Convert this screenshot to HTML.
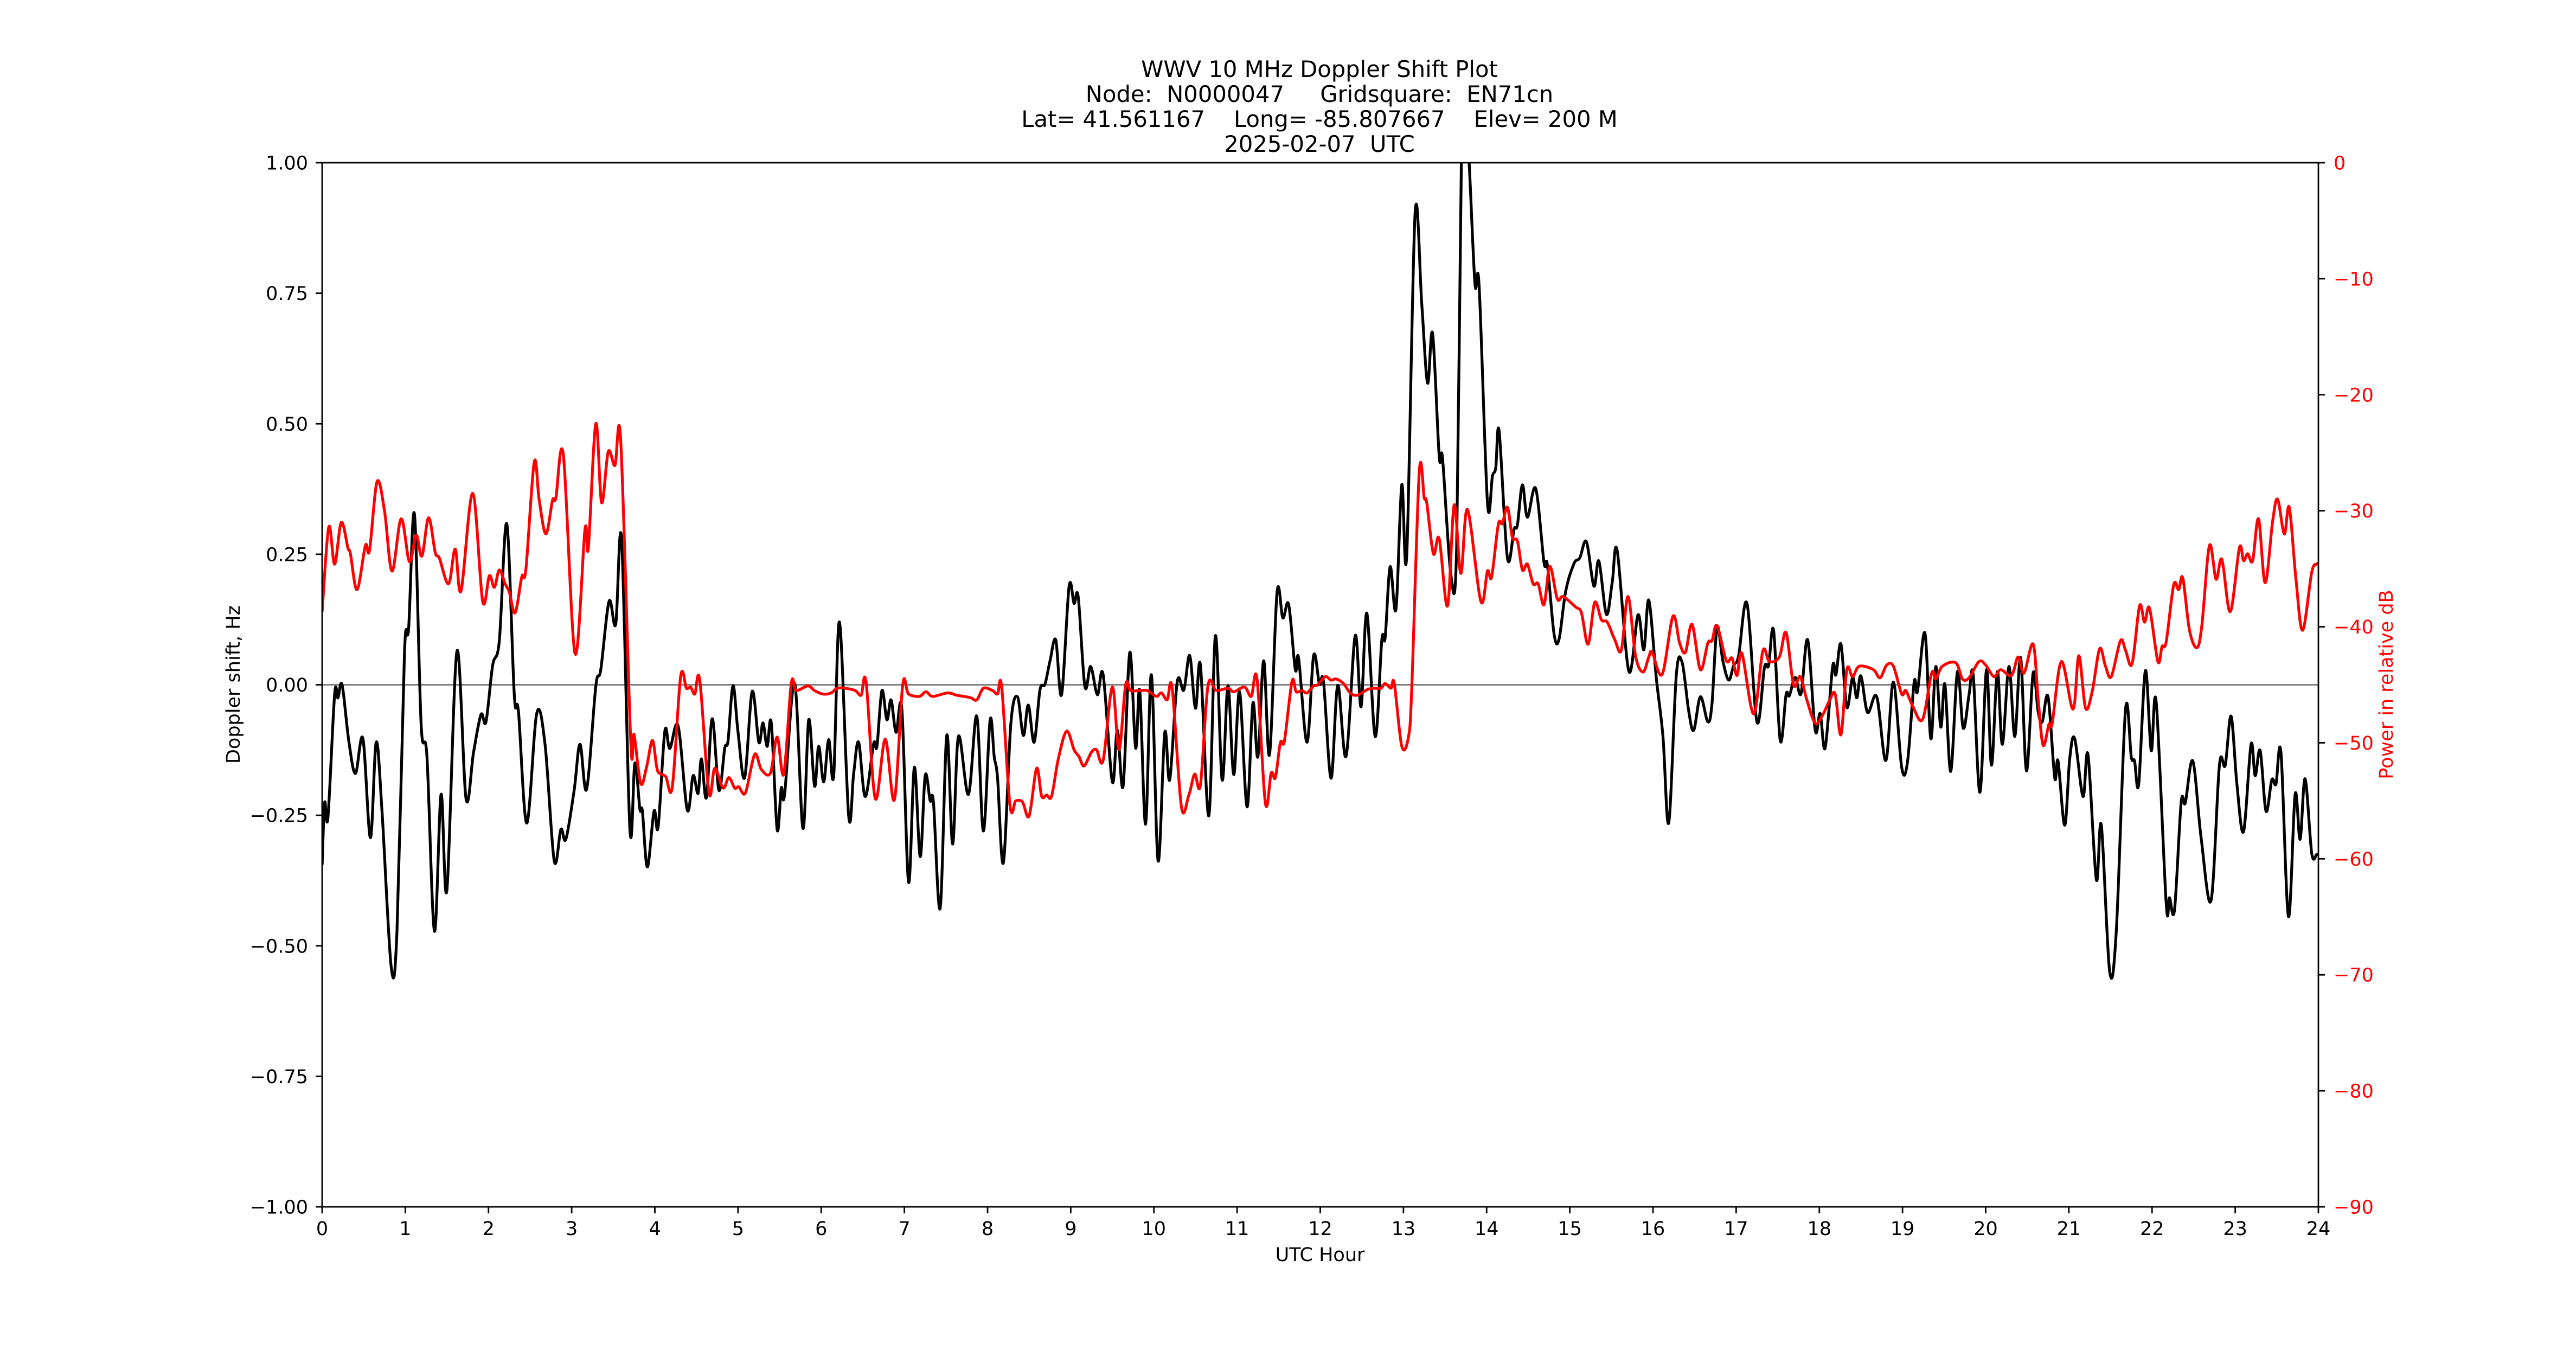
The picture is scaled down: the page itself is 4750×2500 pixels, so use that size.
<!DOCTYPE html>
<html><head><meta charset="utf-8">
<style>
html,body{margin:0;padding:0;background:#fff;}
svg{display:block;font-family:"DejaVu Sans","Liberation Sans",sans-serif;}
</style></head>
<body>
<svg id="chart" width="4750" height="2500" viewBox="0 0 4750 2500" xmlns="http://www.w3.org/2000/svg">
<rect width="4750" height="2500" fill="#fff"/>
<g font-size="41.7" text-anchor="middle" fill="#000" style="white-space:pre">
<text x="2433" y="142" xml:space="preserve">WWV 10 MHz Doppler Shift Plot</text>
<text x="2433" y="188" xml:space="preserve">Node:  N0000047     Gridsquare:  EN71cn</text>
<text x="2433" y="234" xml:space="preserve">Lat= 41.561167    Long= -85.807667    Elev= 200 M</text>
<text x="2433" y="280" xml:space="preserve">2025-02-07  UTC</text>
</g>
<text x="2434" y="2325" font-size="35" text-anchor="middle">UTC Hour</text>
<text transform="translate(442,1262) rotate(-90)" font-size="35" text-anchor="middle">Doppler shift, Hz</text>
<text transform="translate(4412,1262) rotate(-90)" font-size="35" text-anchor="middle" fill="#ff0000">Power in relative dB</text>
<defs><clipPath id="plotclip"><rect x="594" y="300" width="3681" height="1925"/></clipPath></defs>
<g id="series" clip-path="url(#plotclip)"></g>
<g id="axes"></g>
</svg>
<script>
const xTicks = [0,1,2,3,4,5,6,7,8,9,10,11,12,13,14,15,16,17,18,19,20,21,22,23,24];
const leftTicks = [-1,-0.75,-0.5,-0.25,0,0.25,0.5,0.75,1];
const leftTickLabels = ["\u22121.00","\u22120.75","\u22120.50","\u22120.25","0.00","0.25","0.50","0.75","1.00"];
const rightTicks = [0,-10,-20,-30,-40,-50,-60,-70,-80,-90];
const rightTickLabels = ["0","\u221210","\u221220","\u221230","\u221240","\u221250","\u221260","\u221270","\u221280","\u221290"];

const blackHours = [0.00,0.03,0.07,0.15,0.19,0.24,0.32,0.40,0.49,0.58,0.65,0.72,0.83,0.90,0.99,1.04,1.11,1.19,1.26,1.35,1.43,1.50,1.62,1.73,1.82,1.91,1.97,2.05,2.13,2.22,2.31,2.36,2.46,2.58,2.68,2.79,2.87,2.93,3.03,3.10,3.18,3.29,3.35,3.45,3.53,3.60,3.70,3.76,3.82,3.85,3.91,3.99,
4.04,4.12,4.18,4.28,4.39,4.46,4.52,4.56,4.62,4.69,4.77,4.84,4.88,4.94,5.00,5.08,5.17,5.25,5.30,5.35,5.40,5.47,5.52,5.56,5.68,5.78,5.85,5.92,5.97,6.03,6.09,6.15,6.22,6.33,6.39,6.45,6.53,6.63,6.67,6.73,6.79,6.84,6.90,6.97,7.05,7.12,7.19,7.25,7.31,7.35,7.43,7.51,7.58,7.65,7.77,7.87,7.95,
8.03,8.08,8.12,8.19,8.28,8.36,8.43,8.49,8.56,8.63,8.69,8.75,8.82,8.89,8.98,9.04,9.09,9.17,9.24,9.32,9.39,9.50,9.56,9.63,9.71,9.78,9.83,9.90,9.97,10.05,10.13,10.19,10.28,10.36,10.43,10.50,10.56,10.66,10.74,10.82,10.89,10.96,11.03,11.12,11.19,11.25,11.32,11.39,11.48,11.55,11.62,11.70,11.74,11.84,11.92,
11.99,12.04,12.13,12.21,12.31,12.42,12.49,12.56,12.66,12.74,12.78,12.84,12.91,12.98,13.04,13.14,13.22,13.29,13.35,13.43,13.47,13.57,13.64,13.70,13.75,13.79,13.86,13.91,14.01,14.07,14.11,14.15,14.25,14.33,14.37,14.43,14.49,14.59,14.69,14.73,14.81,14.87,14.95,15.05,15.12,15.20,15.29,15.35,15.44,15.51,15.57,15.71,15.82,15.89,15.95,
16.04,16.12,16.19,16.28,16.35,16.43,16.49,16.57,16.66,16.71,16.77,16.84,16.91,16.97,17.03,17.13,17.25,17.34,17.39,17.45,17.53,17.60,17.64,17.71,17.78,17.86,17.95,18.01,18.07,18.16,18.20,18.26,18.33,18.40,18.45,18.50,18.58,18.69,18.80,18.89,18.99,19.06,19.14,19.18,19.27,19.34,19.40,19.46,19.51,19.58,19.66,19.73,19.80,19.85,19.93,20.01,
20.07,20.14,20.20,20.28,20.35,20.42,20.49,20.57,20.63,20.68,20.75,20.83,20.87,20.95,21.01,21.07,21.17,21.23,21.33,21.39,21.49,21.57,21.68,21.75,21.79,21.84,21.92,21.99,22.05,22.17,22.21,22.27,22.35,22.40,22.49,22.59,22.71,22.81,22.88,22.95,23.02,23.10,23.19,23.24,23.30,23.37,23.44,23.49,23.55,23.64,23.72,23.78,23.84,23.92,23.98,24.00];
const blackShift = [-0.345,-0.226,-0.254,-0.019,-0.025,0,-0.107,-0.17,-0.103,-0.293,-0.11,-0.242,-0.54,-0.472,0.06,0.108,0.327,-0.075,-0.138,-0.472,-0.21,-0.393,0.064,-0.218,-0.13,-0.057,-0.071,0.037,0.084,0.308,-0.019,-0.051,-0.265,-0.055,-0.114,-0.337,-0.277,-0.296,-0.202,-0.114,-0.2,-0.003,0.029,0.16,0.116,0.279,-0.277,-0.15,-0.238,-0.242,-0.349,-0.242,
-0.272,-0.089,-0.122,-0.079,-0.24,-0.174,-0.208,-0.142,-0.216,-0.065,-0.202,-0.122,-0.107,-0.002,-0.091,-0.178,-0.013,-0.11,-0.073,-0.118,-0.073,-0.277,-0.198,-0.21,0.003,-0.275,-0.067,-0.194,-0.118,-0.186,-0.105,-0.174,0.12,-0.251,-0.17,-0.11,-0.214,-0.113,-0.118,-0.011,-0.067,-0.029,-0.091,-0.047,-0.378,-0.158,-0.329,-0.174,-0.222,-0.226,-0.428,-0.097,-0.305,-0.099,-0.21,-0.06,-0.28,
-0.068,-0.138,-0.178,-0.341,-0.075,-0.023,-0.097,-0.039,-0.11,-0.01,0.001,0.045,0.086,-0.019,0.188,0.156,0.168,-0.003,0.035,-0.019,0.019,-0.186,-0.087,-0.194,0.062,-0.121,-0.011,-0.267,0.019,-0.337,-0.092,-0.182,0.005,-0.01,0.056,-0.045,0.037,-0.251,0.094,-0.182,-0.002,-0.172,-0.013,-0.234,-0.035,-0.138,0.046,-0.134,0.176,0.128,0.154,0.029,0.051,-0.11,0.056,
0.001,0.005,-0.179,-0.001,-0.137,0.094,-0.042,0.137,-0.099,0.086,0.09,0.226,0.145,0.383,0.249,0.902,0.73,0.578,0.673,0.438,0.433,0.211,0.264,1.05,1.08,1.0,0.768,0.764,0.349,0.4,0.416,0.486,0.243,0.298,0.306,0.383,0.321,0.376,0.234,0.23,0.098,0.087,0.179,0.232,0.243,0.274,0.189,0.237,0.135,0.196,0.257,0.026,0.134,0.067,0.162,
0.013,-0.099,-0.264,0.017,0.043,-0.051,-0.087,-0.023,-0.071,-0.035,0.11,0.046,0.009,0.037,0.056,0.156,-0.071,0.033,0.037,0.104,-0.107,-0.019,-0.021,0.014,-0.017,0.086,-0.087,-0.055,-0.121,0.035,0.019,0.078,-0.043,0.014,-0.025,0.017,-0.053,-0.023,-0.145,0.005,-0.158,-0.148,0.005,-0.013,0.099,-0.103,0.035,-0.081,0.001,-0.166,0.025,-0.083,-0.019,0.019,-0.206,0.029,
-0.154,0.025,-0.114,0.035,-0.099,0.052,-0.165,0.022,-0.051,-0.071,-0.023,-0.178,-0.146,-0.269,-0.142,-0.103,-0.214,-0.134,-0.373,-0.269,-0.548,-0.472,-0.049,-0.138,-0.146,-0.19,0.027,-0.126,-0.033,-0.418,-0.408,-0.431,-0.226,-0.226,-0.146,-0.293,-0.413,-0.154,-0.154,-0.06,-0.19,-0.281,-0.114,-0.174,-0.126,-0.242,-0.182,-0.19,-0.13,-0.444,-0.21,-0.296,-0.18,-0.323,-0.325,-0.325];

const redHours = [0.00,0.08,0.15,0.23,0.31,0.34,0.42,0.52,0.57,0.66,0.75,0.84,0.95,1.05,1.13,1.20,1.28,1.36,1.41,1.52,1.60,1.67,1.81,1.93,2.01,2.07,2.13,2.20,2.25,2.32,2.40,2.45,2.55,2.61,2.69,2.77,2.81,2.90,3.04,3.16,3.20,3.29,3.36,3.44,3.52,3.59,3.71,3.75,3.83,3.90,3.97,4.02,
4.05,4.13,4.21,4.31,4.38,4.43,4.48,4.54,4.65,4.72,4.82,4.89,4.96,5.01,5.09,5.20,5.28,5.39,5.47,5.55,5.64,5.70,5.84,5.92,6.02,6.12,6.19,6.29,6.41,6.48,6.54,6.65,6.77,6.88,6.98,7.05,7.18,7.26,7.34,7.52,7.63,7.79,7.87,7.95,
8.06,8.12,8.17,8.27,8.34,8.42,8.50,8.59,8.65,8.71,8.77,8.85,8.95,9.04,9.10,9.16,9.25,9.31,9.39,9.50,9.58,9.66,9.72,9.83,9.92,10.03,10.09,10.16,10.22,10.33,10.42,10.49,10.56,10.65,10.75,10.89,10.96,11.09,11.17,11.24,11.34,11.41,11.46,11.52,11.57,11.66,11.71,11.78,11.84,11.92,
11.97,12.06,12.13,12.19,12.28,12.36,12.44,12.57,12.65,12.73,12.78,12.85,12.89,12.98,13.06,13.10,13.19,13.25,13.28,13.36,13.43,13.53,13.61,13.69,13.77,13.93,14.01,14.06,14.14,14.19,14.25,14.31,14.37,14.43,14.49,14.56,14.62,14.69,14.76,14.85,14.92,15.07,15.14,15.22,15.30,15.38,15.45,15.54,15.62,15.70,15.79,15.88,15.95,
15.99,16.11,16.24,16.32,16.39,16.47,16.57,16.66,16.71,16.77,16.88,16.95,17.01,17.07,17.21,17.32,17.40,17.52,17.60,17.69,17.77,17.85,17.95,18.04,18.12,18.19,18.26,18.33,18.40,18.48,18.65,18.73,18.81,18.89,18.99,19.04,19.12,19.24,19.35,19.40,19.48,19.64,19.72,19.80,19.92,20.00,
20.10,20.18,20.31,20.39,20.46,20.57,20.63,20.69,20.76,20.80,20.91,21.05,21.12,21.20,21.28,21.37,21.44,21.51,21.62,21.68,21.76,21.85,21.91,21.97,22.07,22.12,22.17,22.26,22.32,22.37,22.45,22.54,22.60,22.69,22.77,22.84,22.94,23.05,23.10,23.15,23.21,23.28,23.36,23.45,23.51,23.59,23.65,23.73,23.81,23.92,23.98,24.00];
const redPower = [-38.7,-31.4,-34.6,-31.0,-33.2,-33.7,-36.8,-33.0,-33.4,-27.5,-30.0,-35.2,-30.7,-34.4,-32.1,-33.9,-30.6,-33.6,-34.1,-36.3,-33.3,-36.9,-28.5,-37.8,-35.6,-36.6,-35.1,-36.3,-37.0,-38.8,-35.7,-35.0,-25.8,-29.1,-32.0,-29.1,-28.9,-25.2,-42.3,-31.6,-33.2,-22.5,-29.3,-24.9,-26.1,-24.0,-49.8,-49.3,-53.5,-52.1,-49.8,-52.0,
-52.6,-52.9,-53.8,-44.3,-45.3,-45.2,-45.8,-44.6,-54.3,-52.2,-53.9,-53.0,-53.9,-53.8,-54.3,-51.0,-52.3,-52.6,-49.5,-52.7,-44.9,-45.5,-45.1,-45.5,-45.8,-45.7,-45.3,-45.3,-45.5,-45.9,-44.8,-54.8,-49.7,-54.9,-45.0,-45.8,-46.0,-45.6,-46.0,-45.7,-45.9,-46.1,-46.3,-45.3,
-45.5,-45.8,-45.2,-55.4,-55.0,-55.1,-56.3,-52.2,-54.6,-54.5,-54.6,-51.4,-49.0,-50.6,-51.2,-52.0,-50.8,-50.6,-51.5,-45.2,-50.6,-45.0,-45.5,-45.5,-45.5,-46.0,-45.7,-46.3,-45.3,-55.5,-54.5,-52.7,-53.6,-45.1,-45.5,-45.3,-45.6,-45.2,-46.0,-44.5,-55.2,-52.6,-53.0,-50.0,-49.8,-44.7,-45.6,-45.5,-45.7,-45.1,
-45.0,-44.3,-44.6,-44.5,-44.9,-45.7,-45.9,-45.4,-45.3,-45.3,-44.9,-45.3,-44.9,-50.3,-49.5,-45.3,-26.7,-28.9,-29.3,-33.7,-32.4,-38.2,-29.5,-35.4,-29.9,-37.8,-35.2,-35.7,-31.2,-31.1,-29.7,-32.3,-32.6,-35.1,-34.6,-36.3,-36.3,-38.1,-34.8,-37.6,-37.4,-38.3,-38.8,-41.5,-37.9,-39.4,-39.6,-41.1,-42.0,-37.4,-42.5,-43.9,-42.6,
-42.2,-44.1,-39.1,-41.4,-42.2,-39.8,-43.7,-41.4,-41.2,-39.9,-42.9,-42.7,-44.2,-42.3,-47.5,-42.1,-43.0,-42.6,-40.5,-45.0,-44.3,-46.3,-48.3,-47.6,-46.4,-45.8,-49.3,-43.7,-44.3,-43.4,-43.7,-44.4,-43.3,-43.4,-45.8,-45.5,-46.8,-48.0,-44.0,-44.5,-43.4,-43.1,-44.5,-44.4,-43.0,-43.3,
-44.3,-43.7,-44.2,-42.6,-44.0,-41.5,-46.2,-50.2,-48.4,-48.3,-43.0,-47.1,-42.5,-47.0,-45.6,-41.9,-43.4,-44.3,-41.2,-42.0,-43.2,-38.2,-39.6,-38.4,-43.0,-41.7,-41.3,-36.4,-36.8,-35.8,-40.3,-41.8,-39.8,-33.0,-35.9,-34.2,-38.7,-33.2,-34.3,-33.7,-34.3,-30.7,-36.2,-30.9,-29.0,-32.0,-29.7,-35.9,-40.3,-35.3,-34.6,-34.6];

const NS = "http://www.w3.org/2000/svg";
const X0 = 594, X1 = 4275, Y0 = 300, Y1 = 2225;
function xScale(h){ return X0 + (h - 0) / 24 * (X1 - X0); }
function yLeft(v){ return Y1 - (v + 1) / 2 * (Y1 - Y0); }
function yRight(d){ return Y1 - (d + 90) / 90 * (Y1 - Y0); }

function smoothPath(xs, ys){
  const p = xs.map((x,i)=>[x, ys[i]]);
  let d = "M" + p[0][0].toFixed(1) + "," + p[0][1].toFixed(1);
  for (let i = 0; i < p.length - 1; i++){
    const p0 = p[Math.max(0,i-1)], p1 = p[i], p2 = p[i+1], p3 = p[Math.min(p.length-1,i+2)];
    const c1x = p1[0] + (p2[0]-p0[0])/6, c1y = p1[1] + (p2[1]-p0[1])/6;
    const c2x = p2[0] - (p3[0]-p1[0])/6, c2y = p2[1] - (p3[1]-p1[1])/6;
    d += " C" + c1x.toFixed(1)+","+c1y.toFixed(1)+" "+c2x.toFixed(1)+","+c2y.toFixed(1)+" "+p2[0].toFixed(1)+","+p2[1].toFixed(1);
  }
  return d;
}

const series = document.getElementById("series");
const axes = document.getElementById("axes");

const zero = document.createElementNS(NS, "line");


zero.setAttribute("x1", X0); zero.setAttribute("x2", X1);
zero.setAttribute("y1", yLeft(0)); zero.setAttribute("y2", yLeft(0));
zero.setAttribute("stroke", "#808080"); zero.setAttribute("stroke-width", "3");
series.appendChild(zero);

const blackLine = document.createElementNS(NS, "path");


blackLine.setAttribute("d", smoothPath(blackHours.map(xScale), blackShift.map(yLeft)));
blackLine.setAttribute("fill", "none"); blackLine.setAttribute("stroke", "#000");
blackLine.setAttribute("stroke-width", "5.2"); blackLine.setAttribute("stroke-linejoin", "round");
series.appendChild(blackLine);

const redLine = document.createElementNS(NS, "path");


redLine.setAttribute("d", smoothPath(redHours.map(xScale), redPower.map(yRight)));
redLine.setAttribute("fill", "none"); redLine.setAttribute("stroke", "#ff0000");
redLine.setAttribute("stroke-width", "5.2"); redLine.setAttribute("stroke-linejoin", "round");
series.appendChild(redLine);

const frame = document.createElementNS(NS, "rect");


frame.setAttribute("x", X0); frame.setAttribute("y", Y0);
frame.setAttribute("width", X1 - X0); frame.setAttribute("height", Y1 - Y0);
frame.setAttribute("fill", "none"); frame.setAttribute("stroke", "#000"); frame.setAttribute("stroke-width", "2.8");
axes.appendChild(frame);

function mkLine(x1,y1,x2,y2){
  const l = document.createElementNS(NS, "line");
  l.setAttribute("x1", x1); l.setAttribute("y1", y1); l.setAttribute("x2", x2); l.setAttribute("y2", y2);
  l.setAttribute("stroke", "#000"); l.setAttribute("stroke-width", "2.8");
  return l;
}
function mkText(x,y,s,anchor,fill){
  const t = document.createElementNS(NS, "text");
  t.setAttribute("x", x); t.setAttribute("y", y);
  t.setAttribute("text-anchor", anchor); t.setAttribute("font-size", "35");
  t.setAttribute("fill", fill); t.textContent = s;
  return t;
}

xTicks.forEach(h => {
  const x = xScale(h);
  const tk = mkLine(x, Y1, x, Y1 + 12);
  
  
  axes.appendChild(tk);
  const lb = mkText(x, Y1 + 52, String(h), "middle", "#000");
  
  
  axes.appendChild(lb);
});
leftTicks.forEach((v, i) => {
  const y = yLeft(v);
  const tk = mkLine(X0 - 12, y, X0, y);
  
  
  axes.appendChild(tk);
  const lb = mkText(X0 - 26, y + 12.5, leftTickLabels[i], "end", "#000");
  
  
  axes.appendChild(lb);
});
rightTicks.forEach((d, i) => {
  const y = yRight(d);
  const tk = mkLine(X1, y, X1 + 12, y);
  
  
  axes.appendChild(tk);
  const lb = mkText(X1 + 28, y + 12.5, rightTickLabels[i], "start", "#ff0000");
  
  
  axes.appendChild(lb);
});
</script>
</body></html>
